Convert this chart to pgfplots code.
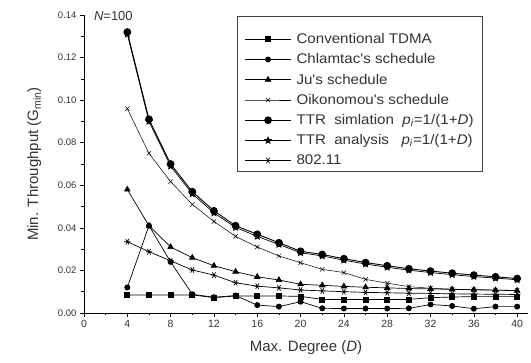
\documentclass[border=0pt]{standalone}
\usepackage{fontspec}
\setmainfont{Liberation Sans}
\newfontfamily\legfont{Liberation Sans}[FakeStretch=1.08]
\usepackage{pgfplots}
\usepackage{pgfplotstable}
\pgfplotsset{compat=1.18}
\usetikzlibrary{plotmarks}

\pgfdeclareplotmark{fstar}{%
  \pgfpathmoveto{\pgfpointpolar{90}{\pgfplotmarksize}}%
  \pgfpathlineto{\pgfpointpolar{126}{0.45\pgfplotmarksize}}%
  \pgfpathlineto{\pgfpointpolar{162}{\pgfplotmarksize}}%
  \pgfpathlineto{\pgfpointpolar{198}{0.45\pgfplotmarksize}}%
  \pgfpathlineto{\pgfpointpolar{234}{\pgfplotmarksize}}%
  \pgfpathlineto{\pgfpointpolar{270}{0.45\pgfplotmarksize}}%
  \pgfpathlineto{\pgfpointpolar{306}{\pgfplotmarksize}}%
  \pgfpathlineto{\pgfpointpolar{342}{0.45\pgfplotmarksize}}%
  \pgfpathlineto{\pgfpointpolar{18}{\pgfplotmarksize}}%
  \pgfpathlineto{\pgfpointpolar{54}{0.45\pgfplotmarksize}}%
  \pgfpathclose\pgfusepathqfillstroke}

\pgfplotstableread{
D  ttrs   ttra   chl    tdma   ju     oik    wlan
4  0.132  0.131  0.012  0.0085 0.058  0.096  0.0335
6  0.091  0.090  0.041  0.0085 0.041  0.075  0.0288
8  0.070  0.069  0.024  0.0085 0.031  0.0617 0.0245
10 0.057  0.056  0.0088 0.0085 0.026  0.051  0.0202
12 0.048  0.047  0.0074 0.0072 0.0222 0.043  0.0178
14 0.041  0.0402 0.0082 0.0080 0.0194 0.036  0.0142
16 0.037  0.036  0.0037 0.0080 0.0170 0.031  0.0126
18 0.033  0.0322 0.0030 0.0080 0.0155 0.0268 0.0118
20 0.029  0.0283 0.0053 0.0078 0.0135 0.0236 0.0108
22 0.0275 0.0268 0.0022 0.0064 0.0130 0.0205 0.0104
24 0.0255 0.0248 0.0021 0.0063 0.0125 0.0190 0.0100
26 0.0237 0.0230 0.0021 0.0063 0.0121 0.0158 0.0097
28 0.0222 0.0215 0.0021 0.0063 0.0118 0.0140 0.0095
30 0.0208 0.0201 0.0022 0.0064 0.0115 0.0124 0.0093
32 0.0197 0.0190 0.0040 0.0072 0.0113 0.0116 0.0092
34 0.0187 0.0180 0.0033 0.0075 0.0111 0.0112 0.0090
36 0.0178 0.0171 0.0020 0.0077 0.0109 0.0110 0.0089
38 0.0170 0.0164 0.0030 0.0077 0.0107 0.0108 0.0088
40 0.0162 0.0156 0.0030 0.0077 0.0105 0.0106 0.0087
}\datatable

\begin{document}
\begin{tikzpicture}
\begin{axis}[
  scale only axis,
  width=444pt, height=298pt,
  xmin=0, xmax=41, ymin=0, ymax=0.14,
  clip=false,
  axis lines=left,
  axis line style={-, line width=0.8pt},
  xtick={0,4,...,40},
  ytick={0,0.02,...,0.141},
  minor x tick num=1,
  minor y tick num=1,
  tick align=outside,
  major tick length=4pt,
  minor tick length=2.5pt,
  tick style={line width=0.7pt, black},
  scaled y ticks=false,
  yticklabel style={/pgf/number format/.cd, fixed, fixed zerofill, precision=2, assume math mode=true},
  xticklabel style={/pgf/number format/assume math mode=true, font=\fontsize{10.5}{12}\selectfont},
  tick label style={font=\fontsize{9.5}{11}\selectfont, text=black!80},
  xlabel={Max. Degree (\textit{D})},
  ylabel={Min. Throughput (G\textsubscript{min})},
  label style={font=\fontsize{15}{17}\selectfont, text=black!80},
  xlabel style={at={(axis description cs:0.5,-0.117)}, anchor=center},
  ylabel style={at={(axis description cs:-0.112,0.5)}, anchor=center, rotate=0},
  every axis plot/.append style={line width=0.7pt, black},
  legend cell align=left,
  legend style={at={(rel axis cs:0.345,0.997)}, anchor=north west,
    draw=black!75, line width=0.9pt, font=\legfont\fontsize{14}{16}\selectfont,
    text=black!80, row sep=4.6pt, column sep=3pt, inner xsep=7pt, inner ysep=3pt},
  legend image code/.code={\draw[mark repeat=2,mark phase=2,#1] plot coordinates {(0pt,0pt) (23pt,0pt) (46pt,0pt)};},
]
\addlegendimage{empty legend}\addlegendentry{\rule{0pt}{2pt}}
\addplot[mark=square*, mark size=2.5pt] table[x=D,y=tdma]{\datatable};
\addlegendentry{Conventional TDMA}
\addplot[mark=*, mark size=2.6pt] table[x=D,y=chl]{\datatable};
\addlegendentry{Chlamtac's schedule}
\addplot[mark=triangle*, mark size=3.2pt] table[x=D,y=ju]{\datatable};
\addlegendentry{Ju's schedule}
\addplot[mark=x, mark size=3pt, line width=0.5pt] table[x=D,y=oik]{\datatable};
\addlegendentry{Oikonomou's schedule}
\addplot[mark=*, mark size=3.4pt, line width=0.9pt] table[x=D,y=ttrs]{\datatable};
\addlegendentry{TTR\ \ simlation\ \ \textit{p}\textsubscript{\textit{i}}=1/(1+\textit{D})}
\addplot[mark=fstar, mark size=3.4pt] table[x=D,y=ttra]{\datatable};
\addlegendentry{TTR\ \ analysis\ \ \ \textit{p}\textsubscript{\textit{i}}=1/(1+\textit{D})}
\addplot[mark=asterisk, mark size=3.2pt, mark options={rotate=90}] table[x=D,y=wlan]{\datatable};
\addlegendentry{802.11}
\node[anchor=west, font=\fontsize{13}{15}\selectfont, text=black!80] at (axis cs:0.6,0.1395) {\textit{N}=100};
\end{axis}
\path (current axis.south west) ++(-84pt,-50pt) rectangle ++(531pt,363pt);
\end{tikzpicture}
\end{document}
